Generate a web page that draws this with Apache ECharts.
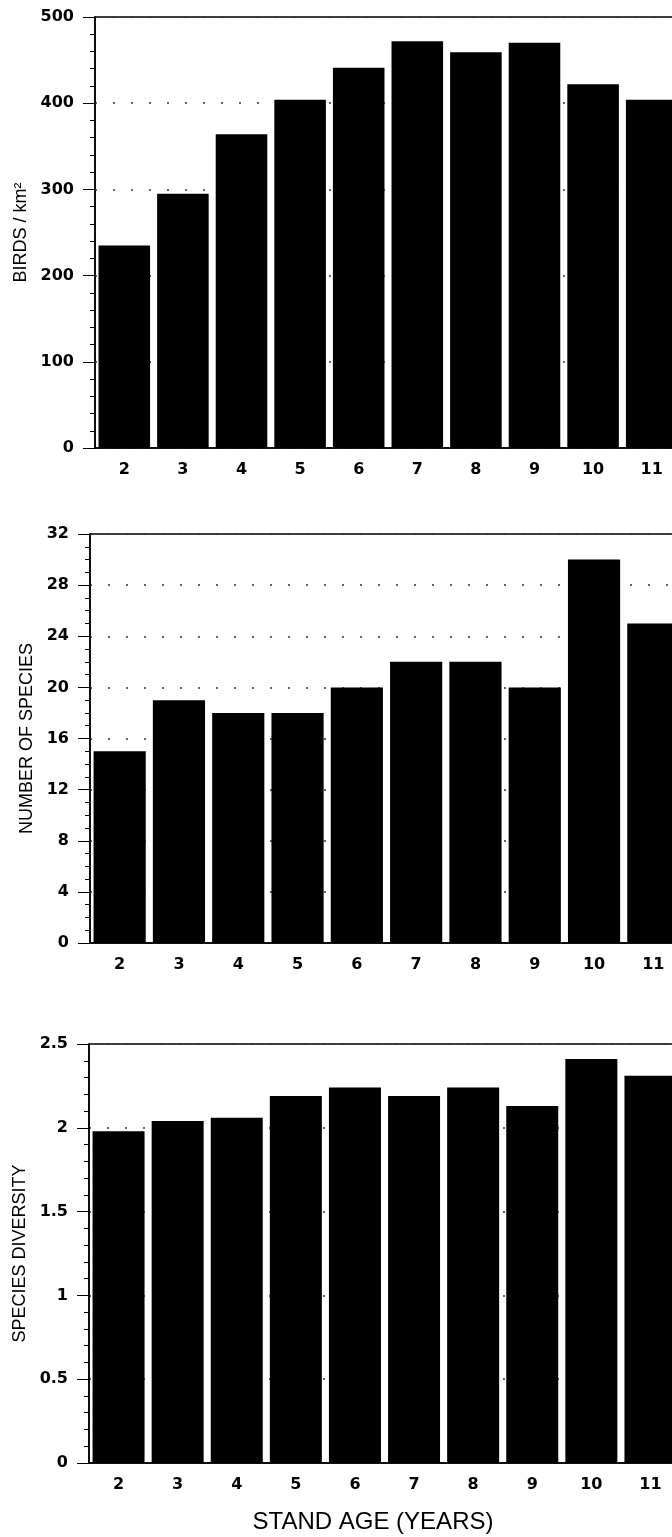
<!DOCTYPE html>
<html>
<head>
<meta charset="utf-8">
<script src="https://cdn.jsdelivr.net/npm/echarts@6/dist/echarts.min.js"></script>
<style>
html,body{margin:0;padding:0;background:#fff;overflow:hidden;width:672px;height:1537px;}
#c{width:700px;height:1537px;}
</style>
</head>
<body>
<div id="c"></div>
<script>
const categories = ['2','3','4','5','6','7','8','9','10','11'];
const birdsPerKm2 = [235, 295, 364, 404, 441, 472, 459, 470, 422, 404];
const speciesCount = [15, 19, 18, 18, 20, 22, 22, 20, 30, 25];
const speciesDiversity = [1.98, 2.04, 2.06, 2.19, 2.24, 2.19, 2.24, 2.13, 2.41, 2.31];
const yTitles = ['BIRDS / km²', 'NUMBER OF SPECIES', 'SPECIES DIVERSITY'];
const xTitle = 'STAND AGE (YEARS)';

const chart = echarts.init(document.getElementById('c'), null, {renderer:'canvas'});
const tickFont = {fontFamily:'DejaVu Sans', fontSize:16, fontWeight:'bold', color:'#000'};
const grids = [
  {left:95, top:17, width:586, height:431},
  {left:90, top:534, width:593, height:409},
  {left:89, top:1044, width:591, height:419}
];
const yCfg = [
  {min:0, max:500, interval:100, split:5, gap:58, fmt: v => String(v)},
  {min:0, max:32, interval:4, split:4, gap:50, fmt: v => String(v)},
  {min:0, max:2.5, interval:0.5, split:5, gap:51, fmt: v => String(v)}
];
const seriesData = [birdsPerKm2, speciesCount, speciesDiversity];

const option = {
  backgroundColor:'#fff',
  animation:false,
  grid: grids.map(g => Object.assign({show:true, borderColor:'#000', borderWidth:1.5, backgroundColor:'transparent'}, g)),
  xAxis: grids.map((g,i) => ({
    type:'category', gridIndex:i, data:categories,
    axisLine:{show:true, lineStyle:{color:'#000', width:1.5}},
    axisTick:{show:false},
    axisLabel:Object.assign({margin:14}, tickFont),
    splitLine:{show:false}
  })),
  yAxis: yCfg.map((c,i) => ({
    type:'value', gridIndex:i, min:c.min, max:c.max, interval:c.interval,
    name: yTitles[i], nameLocation:'middle', nameRotate:90, nameGap:c.gap,
    nameTextStyle:{fontFamily:'Liberation Sans', fontSize:18, color:'#000'},
    axisLine:{show:true, lineStyle:{color:'#000', width:1.5}},
    axisTick:{show:true, length:12, lineStyle:{color:'#000', width:1}},
    minorTick:{show:true, splitNumber:c.split, length:5, lineStyle:{color:'#000', width:1}},
    axisLabel:Object.assign({margin:21, formatter:c.fmt}, tickFont),
    splitLine:{show:true, lineStyle:{color:'#333', width:1.5, type:[2,16]}},
    minorSplitLine:{show:false}
  })),
  series: seriesData.map((d,i) => ({
    type:'bar', xAxisIndex:i, yAxisIndex:i, data:d,
    barCategoryGap:'12%',
    itemStyle:{color:'#000'},
    z:3
  })),
  graphic:[{
    type:'text', x:373, y:1522,
    style:{text:xTitle, fontFamily:'Liberation Sans', fontSize:24, fill:'#000', textAlign:'center', textVerticalAlign:'middle'}
  }]
};
chart.setOption(option);
</script>
</body>
</html>
